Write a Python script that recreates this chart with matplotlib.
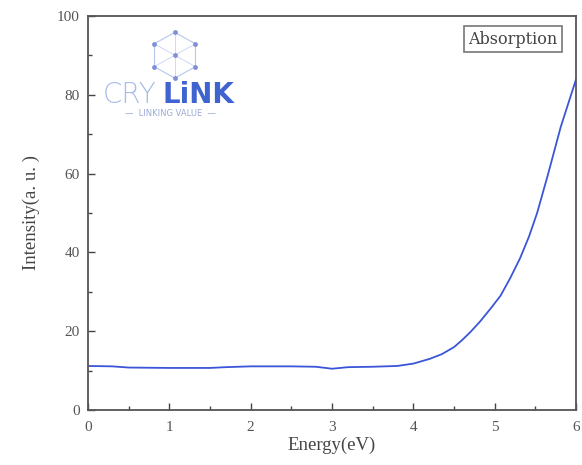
import numpy as np
import matplotlib
matplotlib.use("Agg")
import matplotlib.pyplot as plt
from matplotlib.ticker import MultipleLocator

# absorption spectrum
energy = [0.0, 0.3, 0.5, 1.0, 1.5, 1.7, 2.0, 2.5, 2.8, 3.0, 3.2, 3.5, 3.8,
          4.0, 4.2, 4.35, 4.5, 4.6, 4.7, 4.82, 4.95, 5.07, 5.19, 5.31, 5.42,
          5.52, 5.65, 5.81, 6.0]
intensity = [11.2, 11.1, 10.8, 10.7, 10.7, 10.9, 11.1, 11.1, 11.0, 10.5, 10.9, 11.0, 11.2,
             11.8, 13.0, 14.2, 16.0, 17.8, 19.8, 22.5, 25.8, 29.0, 33.5, 38.5, 44.0,
             50.0, 59.5, 71.8, 84.0]

x_ticks = [0, 1, 2, 3, 4, 5, 6]
y_ticks = [0, 20, 40, 60, 80, 100]

plt.rcParams['font.family'] = ['Liberation Serif', 'DejaVu Serif']

fig = plt.figure(figsize=(5.82, 4.65), dpi=100)
ax = fig.add_axes([0.151, 0.118, 0.839, 0.848])

ax.plot(energy, intensity, color='#3b55d9', lw=1.3)

ax.set_xlim(0, 6)
ax.set_ylim(0, 100)
ax.set_xticks(x_ticks)
ax.set_yticks(y_ticks)
ax.xaxis.set_minor_locator(MultipleLocator(0.5))
ax.yaxis.set_minor_locator(MultipleLocator(10))
ax.tick_params(which='both', direction='in', colors='#444444', labelcolor='#555555',
               labelsize=11, width=1.0)
ax.tick_params(which='major', length=5)
ax.tick_params(which='minor', length=3)
ax.tick_params(axis='x', pad=8)
ax.tick_params(axis='y', pad=6)
for s in ax.spines.values():
    s.set_color('#555555')
    s.set_linewidth(1.3)

ax.set_xlabel('Energy(eV)', fontsize=13.5, color='#444444', labelpad=2)
ax.set_ylabel('Intensity(a. u. )', fontsize=13.5, color='#444444', labelpad=12)

# legend-like label
ax.text(0.962, 0.941, 'Absorption', transform=ax.transAxes, ha='right', va='center',
        fontsize=11.5, color='#444444', family='DejaVu Serif',
        bbox=dict(boxstyle='square,pad=0.3', fc='white', ec='#777777', lw=1.2))

# watermark logo (rough)
cx, cy, r = 0.178, 0.9, 0.058
ang = np.deg2rad(np.arange(0, 360, 60) + 90)
hx = cx + r * np.cos(ang) * 0.84
hy = cy + r * np.sin(ang)
for i in range(6):
    ax.plot([hx[i], hx[(i + 1) % 6]], [hy[i], hy[(i + 1) % 6]], transform=ax.transAxes,
            color='#b8c6ee', lw=0.8)
    ax.plot([cx, hx[i]], [cy, hy[i]], transform=ax.transAxes, color='#c8d3f2', lw=0.6)
ax.scatter(hx, hy, s=6, color='#7d90d8', transform=ax.transAxes, zorder=3)
ax.scatter([cx], [cy], s=6, color='#7d90d8', transform=ax.transAxes, zorder=3)
ax.text(0.03, 0.800, 'CRY', transform=ax.transAxes, fontsize=20, color='#a9bde8',
        family='DejaVu Sans', fontweight='light', va='center')
ax.text(0.153, 0.800, 'LiNK', transform=ax.transAxes, fontsize=20, color='#3f63d0',
        family='DejaVu Sans', fontweight='bold', va='center')
ax.text(0.17, 0.752, '—  LINKING VALUE  —', transform=ax.transAxes, fontsize=6,
        color='#9aa9d6', family='DejaVu Sans', ha='center', va='center')

fig.savefig('out.png', dpi=100)
